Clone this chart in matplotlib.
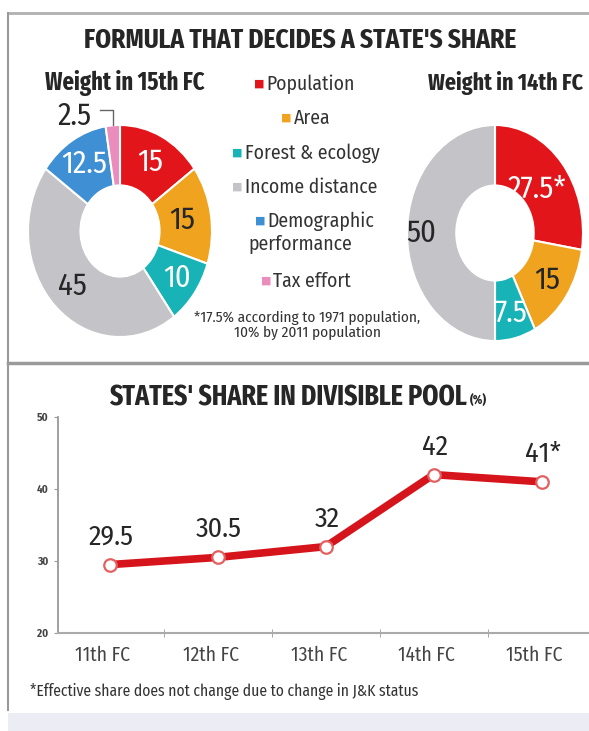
import matplotlib
matplotlib.use("Agg")
import matplotlib.pyplot as plt
import matplotlib.font_manager as fm
from matplotlib.lines import Line2D
from matplotlib.transforms import ScaledTranslation
import numpy as np

# ---------------- data ----------------
factors = ["Population", "Area", "Forest & ecology", "Income distance",
           "Demographic\nperformance", "Tax effort"]
factor_colors = ["#e2151b", "#f0a31e", "#17b3b6", "#c3c3c8", "#3f8fd4", "#ea8cbc"]
weights_15 = [15, 15, 10, 45, 12.5, 2.5]
labels_15 = ["15", "15", "10", "45", "12.5", "2.5"]
weights_14 = [27.5, 15, 7.5, 50]
labels_14 = ["27.5*", "15", "7.5", "50"]

commissions = ["11th FC", "12th FC", "13th FC", "14th FC", "15th FC"]
share = [29.5, 30.5, 32, 42, 41]
share_labels = ["29.5", "30.5", "32", "42", "41*"]
y_ticks = [20, 30, 40, 50]

# ---------------- fonts ----------------
avail = {f.name for f in fm.fontManager.ttflist}


def pick(*cands):
    for c in cands:
        if c in avail:
            return [c, "DejaVu Sans"]
    return ["DejaVu Sans"]


BODY = pick("Fira Sans Condensed", "Roboto Condensed", "PT Sans Narrow")
HEAD = pick("Fira Sans Extra Condensed", "Fira Sans Condensed", "Roboto Condensed")
plt.rcParams["font.family"] = BODY

W, H = 589, 731
fig = plt.figure(figsize=(W / 100, H / 100), dpi=100)
fig.patch.set_facecolor("white")
R = fig.canvas.get_renderer()


def px_axes(left, top, w, h, **kw):
    return fig.add_axes([left / W, 1 - (top + h) / H, w / W, h / H], **kw)


def fx(x):
    return x / W


def fy(y):
    return 1 - y / H


def fit(t, target):
    w = t.get_window_extent(R).width
    t.set_fontsize(t.get_fontsize() * target / w)
    return t


DARK = "#262626"
TXT = "#333333"

# ---------------- frame ----------------
fig.add_artist(Line2D([fx(8), fx(589)], [fy(13), fy(13)], color="#b0b0b0", lw=2))
fig.add_artist(Line2D([fx(8), fx(8)], [fy(13), fy(710)], color="#9a9a9a", lw=1.5))
fig.add_artist(Line2D([fx(8), fx(589)], [fy(363), fy(363)], color="#9a9a9a", lw=2.5))
fig.add_artist(plt.Rectangle((fx(8), 0), fx(581), fy(713), color="#ececf5", lw=0))

# ---------------- titles ----------------
fit(fig.text(fx(300), fy(40), "FORMULA THAT DECIDES A STATE'S SHARE", ha="center",
             va="center", fontsize=20, fontweight="bold", color=DARK, family=HEAD), 432)
fit(fig.text(fx(125), fy(83), "Weight in 15th FC", ha="center", va="center",
             fontsize=15, fontweight="bold", color=DARK, family=HEAD), 160)
fit(fig.text(fx(506), fy(83), "Weight in 14th FC", ha="center", va="center",
             fontsize=15, fontweight="bold", color=DARK, family=HEAD), 155)

# ---------------- donuts ----------------
probe = fig.text(0, 0, "12.5", fontsize=20)
DFS = fit(probe, 46).get_fontsize()
probe.remove()


def donut(ax, vals, cols, labels, txt_cols, radii, ring):
    wedges, _ = ax.pie(vals, colors=cols, startangle=90, counterclock=False,
                       wedgeprops=dict(width=ring, edgecolor="white", linewidth=1.5))
    ax.set_aspect("auto")
    ax.set_xlim(-1, 1)
    ax.set_ylim(-1, 1)
    ax.axis("off")
    for w, lab, c, r in zip(wedges, labels, txt_cols, radii):
        if r is None:
            continue
        a = np.deg2rad((w.theta1 + w.theta2) / 2)
        ax.text(r * np.cos(a), r * np.sin(a), lab, ha="center", va="center",
                fontsize=DFS, color=c)
    return wedges


ax1 = px_axes(28, 125, 184, 212)
w1 = donut(ax1, weights_15, factor_colors, labels_15,
           ["white", DARK, "white", DARK, "white", DARK],
           [0.73, 0.68, 0.76, 0.73, 0.74, None], 0.57)
pink = w1[5]
pa = np.deg2rad((pink.theta1 + pink.theta2) / 2)
px0 = np.cos(pa)
ax1.plot([px0, px0, -0.22], [1.0, 1.14, 1.14], color="#666666", lw=1, clip_on=False)
ax1.text(-0.49, 1.08, labels_15[5], ha="center", va="center", fontsize=DFS,
         color=DARK, clip_on=False)

ax2 = px_axes(407, 125, 176, 216)
donut(ax2, weights_14, factor_colors[:4], labels_14,
      ["white", DARK, "white", DARK], [0.62, 0.74, 0.76, 0.84], 0.56)

# ---------------- legend ----------------
probe = fig.text(0, 0, "Forest & ecology", fontsize=13)
LFS = fit(probe, 135).get_fontsize()
probe.remove()

leg_y = [84, 118, 153, 187, 221, 281]
leg_cx = [311, 312, 312, 311, 321, 312]


def square(x_right, y, col):
    fig.text(x_right / W, fy(y), "\u25a0", ha="right", va="center", fontsize=8,
             color=col, family=["DejaVu Sans"])


for name, col, y, cx in zip(factors, factor_colors, leg_y, leg_cx):
    first = name.split("\n")[0]
    t = fig.text(fx(cx), fy(y), first, ha="center", va="center", fontsize=LFS, color=TXT)
    bb = t.get_window_extent(R)
    square(bb.x0 - 2, y, col)
    if "\n" in name:
        fig.text(fx(300), fy(y + 23), name.split("\n")[1], ha="center", va="center",
                 fontsize=LFS, color=TXT)

fit(fig.text(fx(307), fy(318), "*17.5% according to 1971 population,", ha="center",
             va="center", fontsize=8.5, color=TXT), 228)
fit(fig.text(fx(307), fy(333), "10% by 2011 population", ha="center", va="center",
             fontsize=8.5, color=TXT), 148)

# ---------------- line chart ----------------
t = fit(fig.text(fx(109), fy(398), "STATES' SHARE IN DIVISIBLE POOL", ha="left",
                 va="center", fontsize=17, fontweight="bold", color=DARK, family=HEAD), 359)
bb = t.get_window_extent(R)
fig.text((bb.x1 + 3) / W, fy(400), "(%)", ha="left", va="center", fontsize=9.5,
         fontweight="bold", color=DARK, family=HEAD)

ax3 = px_axes(58, 417, 531, 216)
x = np.arange(len(commissions))
ax3.plot(x, share, color="#d5141c", lw=5.5, solid_capstyle="round", zorder=3)
ax3.plot(x, share, ls="none", marker="o", ms=9, mfc="white", mec="#e36060", mew=1.6, zorder=4)
probe = fig.text(0, 0, "29.5", fontsize=18)
NFS = fit(probe, 45).get_fontsize()
probe.remove()
for xi, v, lab in zip(x, share, share_labels):
    ax3.annotate(lab, (xi, v), xytext=(1, 20), textcoords="offset points",
                 ha="center", va="center", fontsize=NFS, color=DARK)
ax3.set_xlim(-0.48, 4.44)
ax3.set_ylim(20, 50)
ax3.set_yticks(y_ticks)
ax3.set_yticklabels([str(v) for v in y_ticks], fontsize=8, color="#444444",
                    fontweight="bold")
ax3.set_xticks(x)
ax3.set_xticklabels(commissions, fontsize=12, color="#444444")
ax3.set_xticks(x[:-1] + 0.5, minor=True)
ax3.tick_params(axis="x", which="major", length=0, pad=9)
ax3.tick_params(axis="x", which="minor", length=6, direction="inout", color="#999999")
ax3.tick_params(axis="y", length=3, color="#999999", pad=4)
for s in ["top", "right"]:
    ax3.spines[s].set_visible(False)
ax3.spines["left"].set_color("#999999")
ax3.spines["left"].set_linewidth(1.3)
ax3.spines["bottom"].set_color("#aaaaaa")
ax3.spines["bottom"].set_linewidth(1.5)
ax3.patch.set_alpha(0)
fig.canvas.draw()
tl0 = ax3.get_xticklabels()[0]
xfs = tl0.get_fontsize() * 55 / tl0.get_window_extent(R).width
shift = ScaledTranslation(-7 / 100, 0, fig.dpi_scale_trans)
for lab in ax3.get_xticklabels():
    lab.set_fontsize(xfs)
    lab.set_transform(lab.get_transform() + shift)

fit(fig.text(fx(30), fy(691), "*Effective share does not change due to change in J&K status",
             ha="left", va="center", fontsize=9.5, color=TXT), 390)

fig.savefig("out.png", dpi=100, facecolor="white")
